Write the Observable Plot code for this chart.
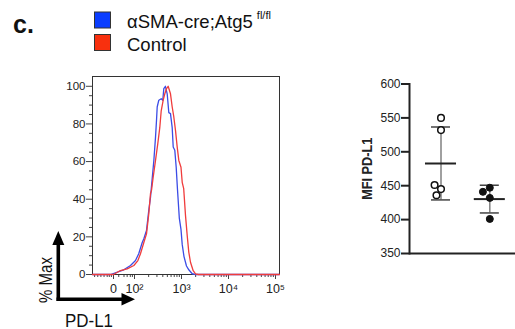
<!DOCTYPE html>
<html><head><meta charset="utf-8">
<script src="https://cdn.jsdelivr.net/npm/d3@7"></script>
<script src="https://cdn.jsdelivr.net/npm/@observablehq/plot@0.6"></script>
<style>
body{margin:0;background:#fff;font-family:"Liberation Sans",Arial,sans-serif;}
#wrap{position:relative;width:515px;height:329px;overflow:hidden;background:#fff;}
#wrap > *{position:absolute;left:0;top:0;}
</style></head><body><div id="wrap"></div>
<script>
// ---------- data ----------
const histSeries = ["αSMA-cre;Atg5", "Control"];
const histSeriesSup = ["fl/fl", ""];
const lineColors = ["#3b4ce6", "#f03c3c"];
const legendColors = ["#0a3dff", "#f8300e"];

const blueIntensity = [-100, -14, 49, 81, 105, 123, 146, 158, 180, 201, 219, 238, 258, 280, 294, 304, 329, 370, 400, 420, 455, 496, 537, 583, 634, 666, 720, 771, 822, 898, 975, 1035, 1130, 1277, 1429, 1690, 1986, 121000];
const bluePct =       [0, 0, 2.5, 4.8, 7.4, 11, 17, 19, 23.4, 34, 41, 51, 60.6, 73, 82, 89, 92.6, 93.4, 92.6, 98.8, 100, 96, 86, 85.5, 78, 67.7, 66, 57, 45, 30, 24, 16, 9.5, 4.5, 2.5, 0.4, 0, 0];
const redIntensity =  [-100, 0, 33, 65, 97, 118, 134, 158, 180, 201, 219, 230, 250, 280, 313, 345, 370, 408, 441, 480, 520, 583, 634, 686, 745, 810, 877, 975, 1035, 1114, 1216, 1322, 1429, 1553, 1773, 1986, 2270, 121000];
const redPct =        [0, 0, 2.1, 3, 4.8, 7.4, 11, 17, 21.6, 32, 43, 44.7, 51.8, 60.6, 69.5, 78, 87, 92.6, 96, 98.8, 100, 96, 89, 83.7, 76.6, 67.7, 60.6, 57, 49, 45.6, 31.4, 20.7, 11.9, 6.5, 2, 0.3, 0, 0];

const xMajorTicks = [0, 100, 1000, 10000, 100000];
const xMajorLabels = ["0", "10²", "10³", "10⁴", "10⁵"];
const xMinorTicks = [-90, -75, -60, -45, -30, -20, -10, 25, 50, 65, 80, 90,
  200, 300, 400, 500, 600, 700, 800, 900,
  2000, 3000, 4000, 5000, 6000, 7000, 8000, 9000,
  20000, 30000, 40000, 50000, 60000, 70000, 80000, 90000];
const xDomainRaw = [-100, 121600];
const yHistMajor = [0, 20, 40, 60, 80, 100];
const yHistMinor = [5, 10, 15, 25, 30, 35, 45, 50, 55, 65, 70, 75, 85, 90, 95];
const yHistDomain = [0, 105.2];

const groups = ["Control", "αSMA-cre;Atg5 fl/fl"];
const controlMFI = [550, 532, 445, 451, 436];
const ckoMFI = [447, 432, 441, 401];
const mfiTicks = [350, 400, 450, 500, 550, 600];
const mfiDomain = [350, 600];

// ---------- helpers ----------
// biexponential-like display transform (linear near zero, log above 10^2)
const T = v => v < 100 ? 2 - (100 - v) * 0.004468 : Math.log10(v);
const labelOf = new Map(xMajorTicks.map((v, i) => [T(v), xMajorLabels[i]]));

const histTable = [
  ...blueIntensity.map((v, i) => ({series: histSeries[0], t: T(v), pct: bluePct[i]})),
  ...redIntensity.map((v, i) => ({series: histSeries[1], t: T(v), pct: redPct[i]}))
];

const font = '"Liberation Sans", Arial, sans-serif';
const wrap = document.getElementById("wrap");

// ---------- histogram ----------
const hist = Plot.plot({
  width: 300, height: 329,
  marginLeft: 92, marginRight: 21, marginTop: 76, marginBottom: 55,
  x: {domain: xDomainRaw.map(T), label: null},
  y: {domain: yHistDomain, label: null},
  color: {domain: histSeries, range: lineColors},
  style: {fontFamily: font, fontSize: "11.5px", color: "#222", background: "transparent", overflow: "visible"},
  marks: [
    Plot.axisY(yHistMinor, {tickSize: 3, tickFormat: () => "", stroke: "#444", label: null}),
    Plot.axisY(yHistMajor, {tickSize: 6, tickPadding: 1, stroke: "#444", label: null}),
    Plot.axisX(xMinorTicks.map(T), {tickSize: 3, tickFormat: () => "", stroke: "#444", label: null}),
    Plot.axisX(xMajorTicks.map(T), {tickSize: 5, tickPadding: 5, stroke: "#444", fontSize: 12.5, tickFormat: d => labelOf.get(d), label: null}),
    Plot.frame({stroke: "#333", strokeWidth: 1}),
    Plot.line(histTable, {x: "t", y: "pct", z: "series", stroke: "series", strokeWidth: 1.3})
  ]
});
wrap.appendChild(hist);

// ---------- scatter: axes ----------
const scatterAxes = Plot.plot({
  width: 195, height: 329,
  marginLeft: 89, marginRight: 0, marginTop: 83.5, marginBottom: 76,
  y: {domain: mfiDomain},
  style: {fontFamily: font, fontSize: "12px", color: "#222", background: "transparent", overflow: "visible"},
  marks: [
    Plot.axisY(mfiTicks, {tickSize: 8, tickPadding: 1, strokeWidth: 2, stroke: "#222",
      label: "MFI PD-L1", labelAnchor: "center", labelArrow: "none", labelOffset: 48}),
    Plot.frame({anchor: "left", stroke: "#222", strokeWidth: 2}),
    Plot.ruleY([mfiDomain[0]], {stroke: "#222", strokeWidth: 2})
  ]
});
scatterAxes.style.left = "320px";
wrap.appendChild(scatterAxes);
const lab = scatterAxes.querySelector('g[aria-label="y-axis label"] text');
if (lab) {
  lab.setAttribute("font-weight", "bold");
  lab.setAttribute("font-size", "15");
  lab.setAttribute("textLength", "62");
  lab.setAttribute("lengthAdjust", "spacingAndGlyphs");
}

// ---------- scatter: data ----------
const points = [
  ...controlMFI.map(v => ({g: groups[0], v})),
  ...ckoMFI.map(v => ({g: groups[1], v}))
];
const summary = groups.map(g => {
  const vals = points.filter(p => p.g === g).map(p => p.v);
  return {g, mean: d3.mean(vals), sd: d3.deviation(vals)};
});

const scatter = Plot.plot({
  width: 195, height: 329,
  marginLeft: 89, marginRight: 0, marginTop: 83.5, marginBottom: 76,
  x: {domain: [0, 1], axis: null},
  y: {domain: mfiDomain, axis: null},
  fx: {domain: groups, paddingInner: 0.2, paddingOuter: 0.186, align: 0.66, round: false, axis: null, label: null},
  style: {background: "transparent", overflow: "visible"},
  marks: [
    Plot.ruleX(summary, {fx: "g", x: () => 0.5, y1: d => d.mean - d.sd, y2: d => d.mean + d.sd, stroke: "#808080", strokeWidth: 1.5}),
    Plot.tickY(summary, {fx: "g", y: d => d.mean + d.sd, insetLeft: 10, insetRight: 10, stroke: "#444", strokeWidth: 1.5}),
    Plot.tickY(summary, {fx: "g", y: d => d.mean - d.sd, insetLeft: 10, insetRight: 10, stroke: "#444", strokeWidth: 1.5}),
    Plot.tickY(summary, {fx: "g", y: "mean", insetLeft: 4, insetRight: 4, stroke: "#222", strokeWidth: 2}),
    Plot.dot(points.filter(p => p.g === groups[0]), Plot.dodgeX("middle", {fx: "g", y: "v", r: 3.3, padding: 2, fill: "#fff", stroke: "#111", strokeWidth: 1.5})),
    Plot.dot(points.filter(p => p.g === groups[1]), Plot.dodgeX("middle", {fx: "g", y: "v", r: 3.5, padding: 2, fill: "#111", stroke: "#111", strokeWidth: 1}))
  ]
});
scatter.style.left = "320px";
wrap.appendChild(scatter);

// ---------- decorations: panel letter, legend, axis arrows ----------
const deco = d3.select(wrap).append("svg")
  .attr("width", 515).attr("height", 329)
  .style("font-family", font).style("pointer-events", "none");
deco.append("text").attr("x", 13).attr("y", 33).attr("font-size", 25).attr("font-weight", "bold").attr("fill", "#111").text("c.");
histSeries.forEach((s, i) => {
  const y0 = 12 + i * 22.5;
  deco.append("rect").attr("x", 94.5).attr("y", y0).attr("width", 16).attr("height", 16)
    .attr("fill", legendColors[i]).attr("stroke", "#333").attr("stroke-width", 1);
  const t = deco.append("text").attr("x", 127).attr("y", y0 + 16).attr("font-size", 18.5).attr("fill", "#111").text(s);
  if (histSeriesSup[i]) t.append("tspan").attr("dx", 4).attr("dy", -9).attr("font-size", 11).text(histSeriesSup[i]);
});
deco.append("line").attr("x1", 58.3).attr("y1", 301).attr("x2", 58.3).attr("y2", 243).attr("stroke", "#000").attr("stroke-width", 3.6);
deco.append("polygon").attr("points", "58.3,231 52.3,245 64.3,245").attr("fill", "#000");
deco.append("line").attr("x1", 56.5).attr("y1", 299.3).attr("x2", 123).attr("y2", 299.3).attr("stroke", "#000").attr("stroke-width", 3.6);
deco.append("polygon").attr("points", "135,299.3 121.5,293 121.5,305.6").attr("fill", "#000");
deco.append("text").attr("transform", "translate(51.5,280) rotate(-90)").attr("text-anchor", "middle")
  .attr("font-size", 18).attr("textLength", 46).attr("lengthAdjust", "spacingAndGlyphs").attr("fill", "#111").text("% Max");
deco.append("text").attr("x", 65).attr("y", 326.5).attr("font-size", 18)
  .attr("textLength", 48).attr("lengthAdjust", "spacingAndGlyphs").attr("fill", "#111").text("PD-L1");
</script></body></html>
